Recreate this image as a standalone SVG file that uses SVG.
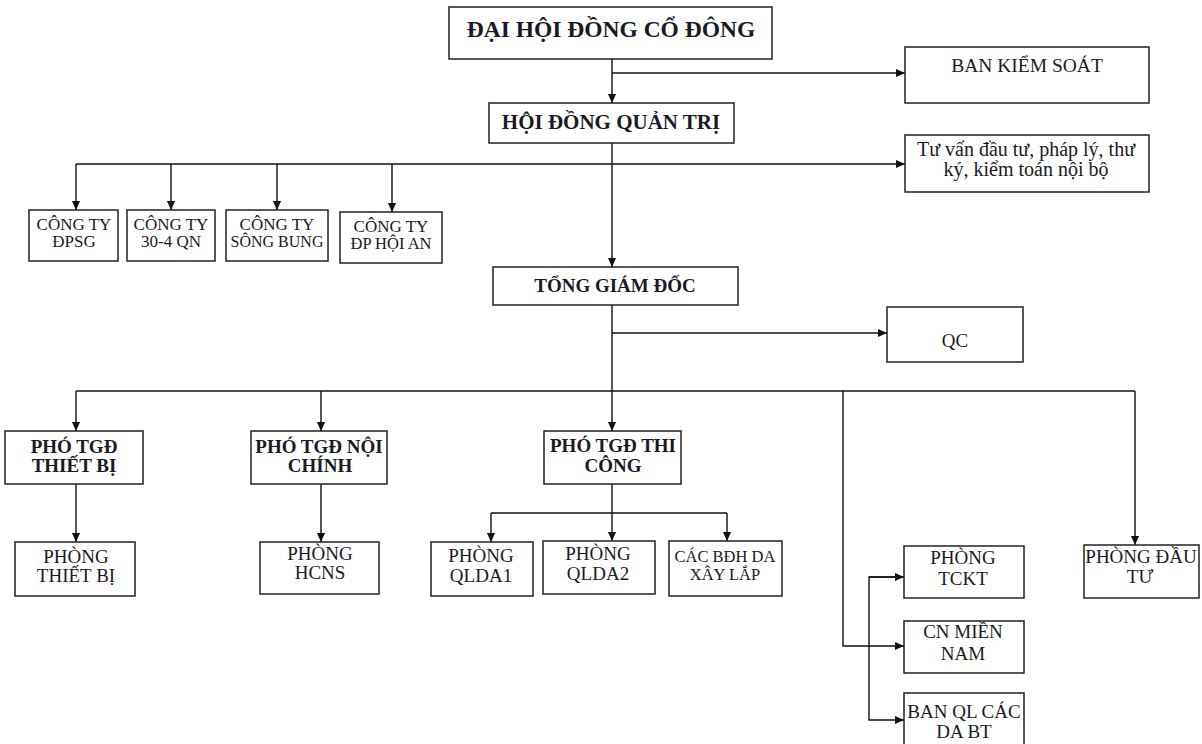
<svg xmlns="http://www.w3.org/2000/svg" width="1202" height="744" viewBox="0 0 1202 744">
<style>
.box{fill:#fff;stroke:#222;stroke-width:1.5}
.t{font-family:"Liberation Serif","Times New Roman",serif;fill:#1a1a24;text-anchor:middle}
.r{font-size:19px}
.s{font-size:17px}
.b{font-weight:bold;font-size:19px}
.c{fill:none;stroke:#111;stroke-width:1.4}
</style>
<defs>
<marker id="arr" viewBox="0 0 10 10" refX="10" refY="5" markerWidth="9" markerHeight="10" markerUnits="userSpaceOnUse" orient="auto">
<path d="M0,0.5 L10,5 L0,9.5 z" fill="#111"/>
</marker>
</defs>
<rect width="1202" height="744" fill="#fff"/>
<g id="connectors">
<line class="c" x1="612" y1="59" x2="612" y2="103" marker-end="url(#arr)"/>
<line class="c" x1="612" y1="73" x2="905" y2="73" marker-end="url(#arr)"/>
<line class="c" x1="612" y1="143" x2="612" y2="267" marker-end="url(#arr)"/>
<path class="c" d="M76,164 H905" marker-end="url(#arr)"/>
<line class="c" x1="76" y1="164" x2="76" y2="210" marker-end="url(#arr)"/>
<line class="c" x1="171" y1="164" x2="171" y2="210" marker-end="url(#arr)"/>
<line class="c" x1="277" y1="164" x2="277" y2="210" marker-end="url(#arr)"/>
<line class="c" x1="392" y1="164" x2="392" y2="212" marker-end="url(#arr)"/>
<line class="c" x1="612" y1="305" x2="612" y2="431" marker-end="url(#arr)"/>
<line class="c" x1="612" y1="333" x2="887" y2="333" marker-end="url(#arr)"/>
<line class="c" x1="76" y1="391" x2="1135" y2="391"/>
<line class="c" x1="76" y1="391" x2="76" y2="431" marker-end="url(#arr)"/>
<line class="c" x1="321" y1="391" x2="321" y2="431" marker-end="url(#arr)"/>
<path class="c" d="M843,391 V646 H904" marker-end="url(#arr)"/>
<line class="c" x1="1135" y1="391" x2="1135" y2="545" marker-end="url(#arr)"/>
<line class="c" x1="76" y1="484" x2="76" y2="542" marker-end="url(#arr)"/>
<line class="c" x1="321" y1="484" x2="321" y2="542" marker-end="url(#arr)"/>
<line class="c" x1="612" y1="484" x2="612" y2="541" marker-end="url(#arr)"/>
<path class="c" d="M491,513 H727"/>
<line class="c" x1="491" y1="513" x2="491" y2="542" marker-end="url(#arr)"/>
<line class="c" x1="727" y1="513" x2="727" y2="541" marker-end="url(#arr)"/>
<path class="c" d="M904,577 H869 V720 H904" marker-end="url(#arr)"/>
<line class="c" x1="869" y1="577" x2="904" y2="577" marker-end="url(#arr)"/>
</g>
<g id="dhdcd"><rect class="box" x="449" y="7" width="323" height="52"/><text class="t" x="611" y="37" font-size="23.5" font-weight="bold">ĐẠI HỘI ĐỒNG CỔ ĐÔNG</text></g>
<g id="hdqt"><rect class="box" x="489" y="103" width="245" height="40"/><text class="t" x="611" y="129" font-size="21" font-weight="bold">HỘI ĐỒNG QUẢN TRỊ</text></g>
<g id="bks"><rect class="box" x="905" y="47" width="244" height="56"/><text class="t" font-size="19.5" x="1027" y="72">BAN KIỂM SOÁT</text></g>
<g id="tuvan"><rect class="box" x="905" y="135" width="244" height="57"/><text class="t" font-size="20" x="1026" y="156">Tư vấn đầu tư, pháp lý, thư</text><text class="t" font-size="20" x="1026" y="176">ký, kiểm toán nội bộ</text></g>
<g id="ct-dpsg"><rect class="box" x="29" y="210" width="89" height="51"/><text class="t s" x="74" y="230">CÔNG TY</text><text class="t s" x="74" y="247">ĐPSG</text></g>
<g id="ct-304"><rect class="box" x="127" y="210" width="88" height="51"/><text class="t s" x="171" y="230">CÔNG TY</text><text class="t s" x="171" y="247">30-4 QN</text></g>
<g id="ct-songbung"><rect class="box" x="226" y="210" width="102" height="51"/><text class="t s" x="277" y="230">CÔNG TY</text><text class="t" font-size="16" x="277" y="247">SÔNG BUNG</text></g>
<g id="ct-hoian"><rect class="box" x="340" y="212" width="102" height="51"/><text class="t s" x="391" y="232">CÔNG TY</text><text class="t" font-size="16.5" x="391" y="249">ĐP HỘI AN</text></g>
<g id="tgd"><rect class="box" x="493" y="267" width="245" height="38"/><text class="t b" x="615" y="292">TỔNG GIÁM ĐỐC</text></g>
<g id="qc"><rect class="box" x="887" y="307" width="136" height="55"/><text class="t r" x="955" y="347">QC</text></g>
<g id="ptgd-tb"><rect class="box" x="5" y="431" width="138" height="53"/><text class="t b" x="74" y="453">PHÓ TGĐ</text><text class="t b" x="74" y="472">THIẾT BỊ</text></g>
<g id="ptgd-nc"><rect class="box" x="251" y="431" width="136" height="53"/><text class="t b" x="319" y="453">PHÓ TGĐ NỘI</text><text class="t b" x="320" y="472">CHÍNH</text></g>
<g id="ptgd-tc"><rect class="box" x="544" y="431" width="137" height="53"/><text class="t b" x="613" y="452">PHÓ TGĐ THI</text><text class="t b" x="613" y="472">CÔNG</text></g>
<g id="p-tb"><rect class="box" x="15" y="542" width="120" height="54"/><text class="t r" x="76" y="563">PHÒNG</text><text class="t r" x="76" y="582">THIẾT BỊ</text></g>
<g id="p-hcns"><rect class="box" x="260" y="542" width="119" height="52"/><text class="t r" x="320" y="560">PHÒNG</text><text class="t r" x="320" y="579">HCNS</text></g>
<g id="p-qlda1"><rect class="box" x="431" y="542" width="102" height="54"/><text class="t r" x="481" y="562">PHÒNG</text><text class="t r" x="481" y="582">QLDA1</text></g>
<g id="p-qlda2"><rect class="box" x="543" y="541" width="112" height="53"/><text class="t r" x="598" y="560">PHÒNG</text><text class="t r" x="598" y="580">QLDA2</text></g>
<g id="bdh"><rect class="box" x="669" y="541" width="113" height="55"/><text class="t" font-size="16.5" x="725" y="562">CÁC BĐH DA</text><text class="t" font-size="16.5" x="725" y="580">XÂY LẮP</text></g>
<g id="p-dautu"><rect class="box" x="1084" y="545" width="115" height="53"/><text class="t" font-size="19" x="1141" y="563">PHÒNG ĐẦU</text><text class="t" font-size="19" x="1140" y="583">TƯ</text></g>
<g id="p-tckt"><rect class="box" x="904" y="546" width="120" height="52"/><text class="t r" x="963" y="564">PHÒNG</text><text class="t r" x="963" y="585">TCKT</text></g>
<g id="cn-mn"><rect class="box" x="904" y="621" width="120" height="52"/><text class="t r" x="963" y="638">CN MIỀN</text><text class="t r" x="963" y="660">NAM</text></g>
<g id="banql"><rect class="box" x="904" y="693" width="120" height="60"/><text class="t r" x="964" y="718">BAN QL CÁC</text><text class="t r" x="964" y="738">DA BT</text></g>
</svg>
